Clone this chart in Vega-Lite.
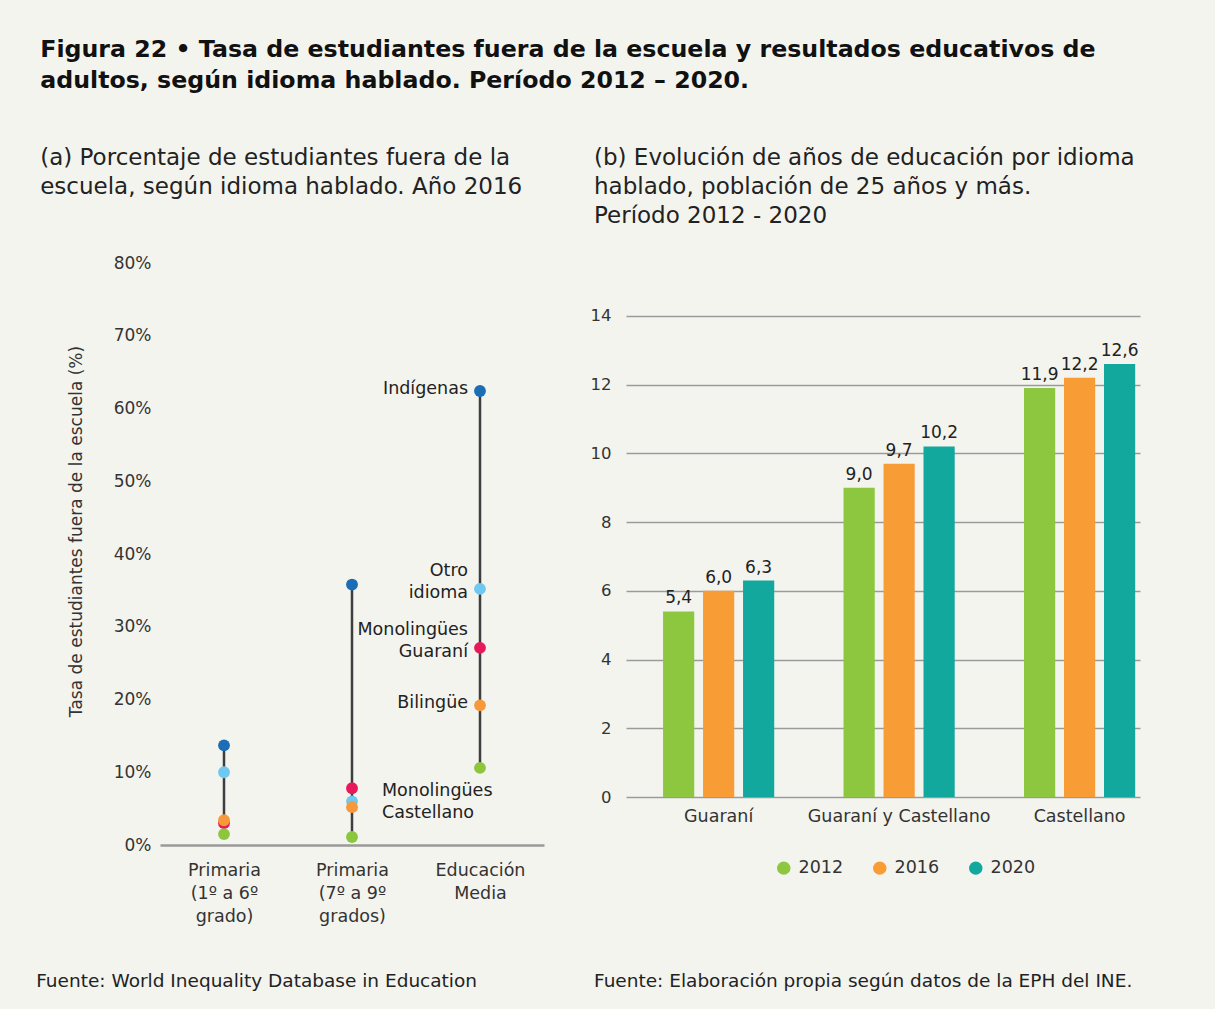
{
  "$schema": "https://vega.github.io/schema/vega-lite/v6.json",
  "background": "#f4f4ef",
  "padding": {"left": 36, "top": 38, "right": 75, "bottom": 24},
  "config": {
    "font": "DejaVu Sans",
    "view": {"stroke": null},
    "locale": {"number": {"decimal": ",", "thousands": ".", "grouping": [3], "currency": ["", " €"]}},
    "concat": {"spacing": 46},
    "text": {"color": "#222"}
  },
  "title": {
    "text": ["Figura 22 • Tasa de estudiantes fuera de la escuela y resultados educativos de", "adultos, según idioma hablado. Período 2012 – 2020."],
    "anchor": "start", "frame": "bounds", "fontSize": 23.7, "fontWeight": "bold", "color": "#111",
    "lineHeight": 31, "offset": 54, "dx": 4
  },
  "datasets": {
    "izq": [
      {"nivel": "Primaria|(1º a 6º|grado)", "idioma": "Indígenas", "tasa": 13.7},
      {"nivel": "Primaria|(1º a 6º|grado)", "idioma": "Otro idioma", "tasa": 10.0},
      {"nivel": "Primaria|(1º a 6º|grado)", "idioma": "Monolingües Guaraní", "tasa": 3.0},
      {"nivel": "Primaria|(1º a 6º|grado)", "idioma": "Bilingüe", "tasa": 3.4},
      {"nivel": "Primaria|(1º a 6º|grado)", "idioma": "Monolingües Castellano", "tasa": 1.5},
      {"nivel": "Primaria|(7º a 9º|grados)", "idioma": "Indígenas", "tasa": 35.8},
      {"nivel": "Primaria|(7º a 9º|grados)", "idioma": "Otro idioma", "tasa": 6.0},
      {"nivel": "Primaria|(7º a 9º|grados)", "idioma": "Monolingües Guaraní", "tasa": 7.8},
      {"nivel": "Primaria|(7º a 9º|grados)", "idioma": "Bilingüe", "tasa": 5.2},
      {"nivel": "Primaria|(7º a 9º|grados)", "idioma": "Monolingües Castellano", "tasa": 1.1},
      {"nivel": "Educación|Media", "idioma": "Indígenas", "tasa": 62.4},
      {"nivel": "Educación|Media", "idioma": "Otro idioma", "tasa": 35.2},
      {"nivel": "Educación|Media", "idioma": "Monolingües Guaraní", "tasa": 27.1},
      {"nivel": "Educación|Media", "idioma": "Bilingüe", "tasa": 19.2},
      {"nivel": "Educación|Media", "idioma": "Monolingües Castellano", "tasa": 10.6}
    ],
    "der": [
      {"idioma": "Guaraní", "anio": "2012", "anos": 5.4},
      {"idioma": "Guaraní", "anio": "2016", "anos": 6.0},
      {"idioma": "Guaraní", "anio": "2020", "anos": 6.3},
      {"idioma": "Guaraní y Castellano", "anio": "2012", "anos": 9.0},
      {"idioma": "Guaraní y Castellano", "anio": "2016", "anos": 9.7},
      {"idioma": "Guaraní y Castellano", "anio": "2020", "anos": 10.2},
      {"idioma": "Castellano", "anio": "2012", "anos": 11.9},
      {"idioma": "Castellano", "anio": "2016", "anos": 12.2},
      {"idioma": "Castellano", "anio": "2020", "anos": 12.6}
    ]
  },
  "resolve": {"scale": {"color": "independent", "x": "independent", "y": "independent"}, "legend": {"color": "independent"}},
  "hconcat": [
    {
      "title": {"text": "Fuente: World Inequality Database in Education", "orient": "bottom", "anchor": "start", "frame": "bounds", "fontSize": 18.5, "fontWeight": "normal", "color": "#222", "offset": 47, "dx": -4},
      "vconcat": [
        {
          "width": 384,
          "height": 582,
          "title": {"text": ["(a) Porcentaje de estudiantes fuera de la", "escuela, según idioma hablado. Año 2016"], "anchor": "start", "frame": "bounds", "fontSize": 23, "fontWeight": "normal", "color": "#222", "lineHeight": 29, "offset": 55, "dx": -27},
          "data": {"name": "izq"},
          "encoding": {
            "x": {
              "field": "nivel", "type": "nominal", "sort": null,
              "scale": {"type": "point", "padding": 0.5},
              "axis": {"title": null, "labelExpr": "split(datum.value, '|')", "labelAngle": 0, "labelFontSize": 17.5, "labelColor": "#333", "labelLineHeight": 23, "labelPadding": 16, "ticks": false, "domainColor": "#9a9a9a", "domainWidth": 2.5}
            }
          },
          "layer": [
            {
              "mark": {"type": "rule", "color": "#3d3d3d", "strokeWidth": 2.5},
              "encoding": {
                "y": {"aggregate": "min", "field": "tasa", "type": "quantitative", "scale": {"domain": [0, 80], "nice": false},
                  "axis": {"title": "Tasa de estudiantes fuera de la escuela  (%)", "values": [0, 10, 20, 30, 40, 50, 60, 70, 80], "labelExpr": "datum.value + '%'", "domain": false, "ticks": false, "grid": false, "labelFontSize": 17, "labelColor": "#333", "labelPadding": 9, "titleFontSize": 17, "titleFontWeight": "normal", "titleColor": "#333", "titlePadding": 28, "titleY": 268}},
                "y2": {"aggregate": "max", "field": "tasa"}
              }
            },
            {
              "mark": {"type": "circle", "size": 140, "opacity": 1},
              "encoding": {
                "y": {"field": "tasa", "type": "quantitative",
                  "axis": {"title": "Tasa de estudiantes fuera de la escuela  (%)", "values": [0, 10, 20, 30, 40, 50, 60, 70, 80], "labelExpr": "datum.value + '%'", "domain": false, "ticks": false, "grid": false, "labelFontSize": 17, "labelColor": "#333", "labelPadding": 9, "titleFontSize": 17, "titleFontWeight": "normal", "titleColor": "#333", "titlePadding": 28, "titleY": 268}},
                "color": {"field": "idioma", "type": "nominal", "legend": null,
                  "scale": {"domain": ["Indígenas", "Otro idioma", "Monolingües Guaraní", "Bilingüe", "Monolingües Castellano"], "range": ["#1b6db5", "#6fc8f0", "#e8195a", "#f7983a", "#8cc63f"]}}
              }
            },
            {
              "transform": [{"filter": "datum.nivel == 'Educación|Media' && (datum.idioma == 'Indígenas' || datum.idioma == 'Bilingüe')"}],
              "mark": {"type": "text", "align": "right", "baseline": "middle", "dx": -12, "dy": -2, "fontSize": 17.5, "color": "#222"},
              "encoding": {"y": {"field": "tasa", "type": "quantitative"}, "text": {"field": "idioma"}}
            },
            {
              "transform": [{"filter": "datum.nivel == 'Educación|Media' && (datum.idioma == 'Otro idioma' || datum.idioma == 'Monolingües Guaraní')"}],
              "mark": {"type": "text", "align": "right", "baseline": "middle", "dx": -12, "dy": -18, "fontSize": 17.5, "lineBreak": " ", "lineHeight": 22, "color": "#222"},
              "encoding": {"y": {"field": "tasa", "type": "quantitative"}, "text": {"field": "idioma"}}
            },
            {
              "transform": [{"filter": "datum.nivel == 'Educación|Media' && datum.idioma == 'Monolingües Castellano'"}],
              "mark": {"type": "text", "align": "left", "baseline": "middle", "dx": -98, "dy": 23, "fontSize": 17.5, "lineBreak": " ", "lineHeight": 22, "color": "#222"},
              "encoding": {"y": {"field": "tasa", "type": "quantitative"}, "text": {"field": "idioma"}}
            }
          ]
        }
      ]
    },
    {
      "title": {"text": "Fuente: Elaboración propia según datos de la EPH del INE.", "orient": "bottom", "anchor": "start", "frame": "bounds", "fontSize": 18.5, "fontWeight": "normal", "color": "#222", "offset": 95, "dx": 4},
      "vconcat": [
        {
          "width": 514,
          "height": 534,
          "title": {"text": ["(b) Evolución de años de educación por idioma", "hablado, población de 25 años y más.", "Período 2012 - 2020"], "anchor": "start", "frame": "bounds", "fontSize": 23, "fontWeight": "normal", "color": "#222", "lineHeight": 29, "offset": 35, "dx": 4},
          "data": {"name": "der"},
          "encoding": {
            "x": {"field": "idioma", "type": "nominal", "sort": null,
              "scale": {"paddingInner": 0.384, "paddingOuter": 0.116, "align": 0.885},
              "axis": {"title": null, "labelAngle": 0, "domain": false, "ticks": false, "labelFontSize": 17.5, "labelColor": "#333", "labelPadding": 10, "labelLimit": 400}},
            "xOffset": {"field": "anio", "type": "nominal", "scale": {"paddingInner": 0.22, "paddingOuter": 0}},
            "y": {"field": "anos", "type": "quantitative", "scale": {"domain": [0, 15.54], "nice": false},
              "axis": {"title": null, "values": [0, 2, 4, 6, 8, 10, 12, 14], "domain": false, "ticks": false, "gridColor": "#9a9a9a", "gridWidth": 1.5, "labelFontSize": 16.5, "labelColor": "#333", "labelPadding": 15}}
          },
          "layer": [
            {
              "mark": {"type": "bar"},
              "encoding": {
                "color": {"field": "anio", "type": "nominal",
                  "scale": {"domain": ["2012", "2016", "2020"], "range": ["#8dc63f", "#f89c36", "#13a89e"]},
                  "legend": {"title": null, "orient": "none", "legendX": 149, "legendY": 596, "padding": 0, "direction": "horizontal", "symbolType": "circle", "symbolSize": 180, "labelFontSize": 17.5, "labelColor": "#333", "labelOffset": 6, "columnPadding": 27}}
              }
            },
            {
              "mark": {"type": "text", "baseline": "bottom", "dy": -4, "fontSize": 17, "color": "#222"},
              "encoding": {"text": {"field": "anos", "type": "quantitative", "format": ".1f"}}
            }
          ]
        }
      ]
    }
  ]
}
